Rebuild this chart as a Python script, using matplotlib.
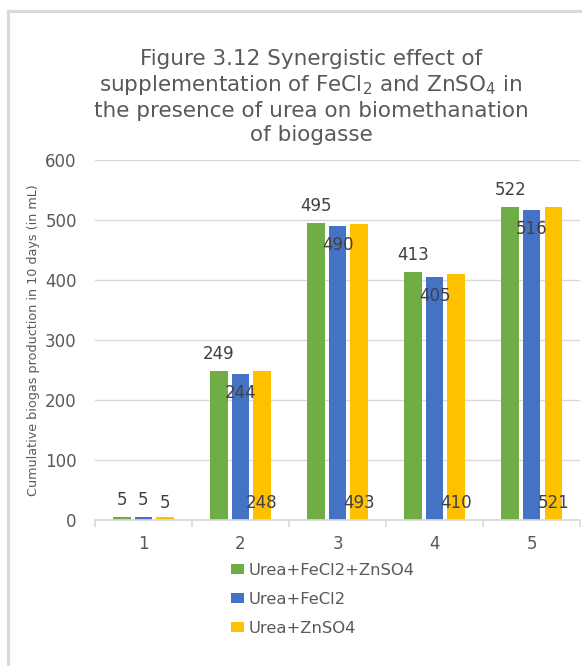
import numpy as np
import matplotlib
matplotlib.use("Agg")
import matplotlib.pyplot as plt
from matplotlib.lines import Line2D

categories = ["1", "2", "3", "4", "5"]
series_names = ["Urea+FeCl2+ZnSO4", "Urea+FeCl2", "Urea+ZnSO4"]
fecl_zn = [5, 249, 495, 413, 522]
fecl = [5, 244, 490, 405, 516]
znso = [5, 248, 493, 410, 521]
colors = ["#70ad47", "#4472c4", "#ffc000"]

plt.rcParams.update({"font.family": ["DejaVu Sans"],
                     "mathtext.fontset": "dejavusans",
                     "mathtext.default": "regular"})

TXT = "#595959"
LBL = "#404040"
GRID = "#d9d9d9"

fig = plt.figure(figsize=(5.82, 6.66), dpi=100)
ax = fig.add_axes([0.163, 0.219, 0.834, 0.541])

# chart frame: left and top edges only
fx, fy = 8 / 582, 1 - 11 / 666
fig.add_artist(Line2D([fx, fx, 1.0], [0.0, fy, fy], transform=fig.transFigure,
                      color=GRID, lw=2.2, solid_joinstyle="miter"))

x = np.arange(len(categories))
step, width = 0.222, 0.18
data = [fecl_zn, fecl, znso]
for i, (vals, c, name) in enumerate(zip(data, colors, series_names)):
    xs = x + (i - 1) * step
    ax.bar(xs, vals, width=width, color=c, label=name, zorder=2)
    for xv, v in zip(xs, vals):
        if i == 0 or (i == 1 and v < 50):
            y, dy = v, 12.2      # above the bar
        elif i == 1:
            y, dy = v, -13.7     # just inside the top
        else:
            y, dy = 0, 12.2      # near the base
        ax.annotate(str(v), (xv, y), xytext=(0, dy), textcoords="offset points",
                    ha="center", va="center", fontsize=12, color=LBL, zorder=3)

ax.set_xlim(-0.5, len(categories) - 0.5)
ax.set_ylim(0, 600)
ax.set_yticks(range(0, 601, 100))
ax.yaxis.grid(True, color=GRID, lw=1)
ax.set_axisbelow(True)
for s in ["top", "right", "left"]:
    ax.spines[s].set_visible(False)
ax.spines["bottom"].set_color(GRID)
ax.spines["bottom"].set_linewidth(1.2)
ax.tick_params(axis="y", length=0, labelsize=12, labelcolor=TXT, pad=13)
ax.set_xticks(x)
ax.set_xticklabels(categories)
ax.tick_params(axis="x", length=0, labelsize=12, labelcolor=TXT, pad=11)
# category separator ticks
ax.set_xticks(np.arange(-0.5, len(categories), 1), minor=True)
ax.tick_params(axis="x", which="minor", length=5, color=GRID, width=1.2)

ax.set_ylabel("Cumulative biogas production in 10 days (in mL)",
              fontsize=9.2, color=TXT, labelpad=4)

fig.text(311 / 582, 1 - 97 / 666,
         "Figure 3.12 Synergistic effect of\n"
         "supplementation of FeCl$_2$ and ZnSO$_4$ in\n"
         "the presence of urea on biomethanation\n"
         "of biogasse",
         ha="center", va="center", fontsize=15.5, color=TXT, linespacing=1.25)

fig.legend(loc="upper left", bbox_to_anchor=(231 / 582, 1 - 563 / 666),
           frameon=False, fontsize=11.8, labelcolor=TXT,
           handlelength=0.8, handleheight=0.55, handletextpad=0.3,
           labelspacing=0.85, borderaxespad=0, borderpad=0)

fig.savefig("out.png", dpi=100)
